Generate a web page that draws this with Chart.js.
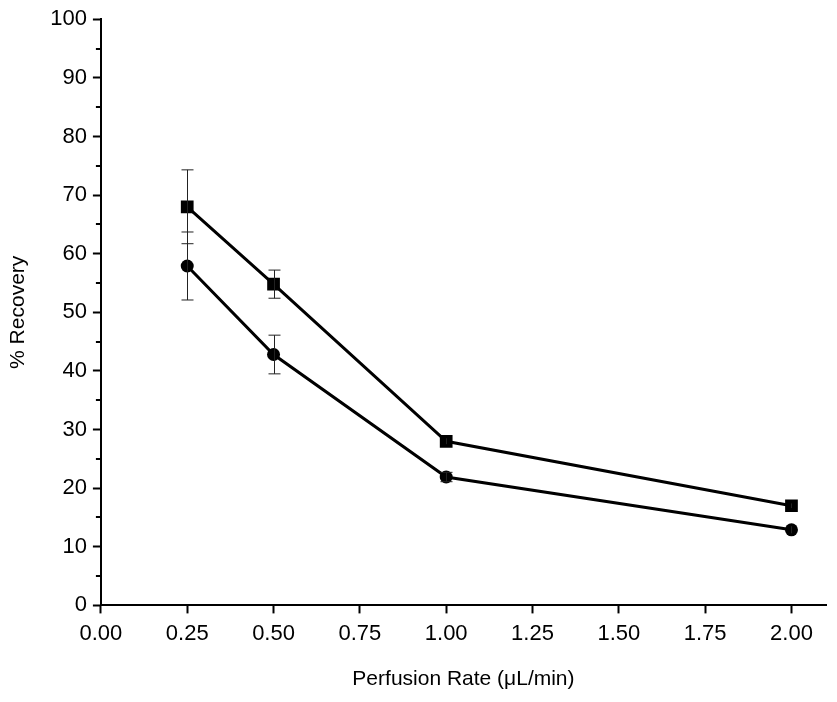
<!DOCTYPE html>
<html>
<head>
<meta charset="utf-8">
<script src="https://cdn.jsdelivr.net/npm/chart.js@4"></script>
<style>
  html, body { margin: 0; padding: 0; background: #fff; }
  canvas { display: block; }
</style>
</head>
<body>
<canvas id="chart" width="837" height="702"></canvas>
<script>
// perfusion rates (uL/min)
var rates = [0.25, 0.5, 1.0, 2.0];
// square series
var squareVals = [68, 54.8, 28, 17];
var squareErr = [6.3, 2.4, 0.5, 0.4];
// circle series
var circleVals = [57.9, 42.8, 21.9, 12.9];
var circleErr = [5.8, 3.3, 0.8, 0.6];

var xTicks = [0, 0.25, 0.5, 0.75, 1.0, 1.25, 1.5, 1.75, 2.0];

function pts(vals) {
    return rates.map(function (r, i) { return { x: r, y: vals[i] }; });
}

// error bars + minor y ticks
var extras = {
    id: 'extras',
    afterDatasetsDraw: function (chart) {
        var ctx = chart.ctx;
        var xs = chart.scales.x, ys = chart.scales.y;
        ctx.save();
        ctx.strokeStyle = '#222';
        ctx.lineWidth = 1;
        [[squareVals, squareErr], [circleVals, circleErr]].forEach(function (s) {
            rates.forEach(function (r, i) {
                var px = Math.round(xs.getPixelForValue(r)) + 0.5;
                var top = ys.getPixelForValue(s[0][i] + s[1][i]);
                var bot = ys.getPixelForValue(s[0][i] - s[1][i]);
                ctx.beginPath();
                ctx.moveTo(px, top); ctx.lineTo(px, bot);
                if (s[1][i] > 0.6) {
                    ctx.moveTo(px - 6, top); ctx.lineTo(px + 6, top);
                    ctx.moveTo(px - 6, bot); ctx.lineTo(px + 6, bot);
                }
                ctx.stroke();
            });
        });
        ctx.restore();
    },
    afterDraw: function (chart) {
        var ctx = chart.ctx;
        var ys = chart.scales.y;
        ctx.save();
        ctx.strokeStyle = '#000';
        ctx.lineWidth = 2;
        for (var v = 5; v < 100; v += 10) {
            var py = Math.round(ys.getPixelForValue(v));
            ctx.beginPath();
            ctx.moveTo(ys.right - 5, py); ctx.lineTo(ys.right, py);
            ctx.stroke();
        }
        ctx.restore();
    }
};

var ctx = document.getElementById('chart').getContext('2d');
var myChart = new Chart(ctx, {
    type: 'scatter',
    data: {
        datasets: [{
            data: pts(squareVals),
            showLine: true,
            borderColor: '#000',
            backgroundColor: '#000',
            borderWidth: 3,
            pointStyle: 'rect',
            pointRadius: 9,
            pointBorderWidth: 0
        }, {
            data: pts(circleVals),
            showLine: true,
            borderColor: '#000',
            backgroundColor: '#000',
            borderWidth: 3,
            pointStyle: 'circle',
            pointRadius: 6.5,
            pointBorderWidth: 0
        }]
    },
    plugins: [extras],
    options: {
        responsive: false,
        animation: false,
        layout: {
            padding: { left: 6, right: 11, top: 18, bottom: 10 }
        },
        plugins: {
            legend: { display: false },
            tooltip: { enabled: false }
        },
        scales: {
            x: {
                type: 'linear',
                min: 0,
                max: 2.1,
                afterBuildTicks: function (scale) {
                    scale.ticks = xTicks.map(function (v) { return { value: v }; });
                },
                ticks: {
                    color: '#000',
                    font: { family: 'Liberation Sans', size: 22 },
                    padding: 7,
                    maxRotation: 0,
                    callback: function (v) { return Number(v).toFixed(2); }
                },
                grid: {
                    drawOnChartArea: false,
                    tickLength: 8,
                    tickWidth: 2,
                    tickColor: '#000'
                },
                border: { color: '#000', width: 2 },
                title: {
                    display: true,
                    text: 'Perfusion Rate (μL/min)',
                    color: '#000',
                    font: { family: 'Liberation Sans', size: 21 },
                    padding: { top: 13, bottom: 0 }
                }
            },
            y: {
                min: 0,
                max: 100,
                ticks: {
                    stepSize: 10,
                    color: '#000',
                    font: { family: 'Liberation Sans', size: 22 },
                    padding: 6
                },
                grid: {
                    drawOnChartArea: false,
                    tickLength: 8,
                    tickWidth: 2,
                    tickColor: '#000'
                },
                border: { color: '#000', width: 2 },
                title: {
                    display: true,
                    text: '% Recovery',
                    color: '#000',
                    font: { family: 'Liberation Sans', size: 21 },
                    padding: { top: 0, bottom: 13 }
                }
            }
        }
    }
});
</script>
</body>
</html>
